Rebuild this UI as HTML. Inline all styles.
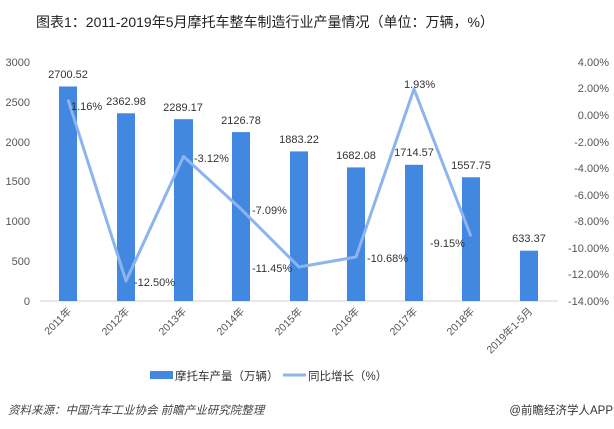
<!DOCTYPE html>
<html><head><meta charset="utf-8"><style>
body{margin:0;background:#fff;}
svg{display:block;font-family:"Liberation Sans","Noto Sans CJK SC",sans-serif;}
</style></head><body>
<svg width="614" height="429" viewBox="0 0 614 429" xmlns="http://www.w3.org/2000/svg">
<text x="36" y="27" font-size="14" fill="#222">图表1：2011-2019年5月摩托车整车制造行业产量情况（单位：万辆，%）</text>
<g font-size="11" fill="#555" text-anchor="end">
<text x="30" y="66">3000</text><text x="30" y="106">2500</text><text x="30" y="146">2000</text>
<text x="30" y="185">1500</text><text x="30" y="225">1000</text><text x="30" y="265">500</text><text x="30" y="305">0</text>
</g>
<g font-size="11" fill="#555" text-anchor="end">
<text x="609" y="66">4.00%</text><text x="609" y="92">2.00%</text><text x="609" y="119">0.00%</text>
<text x="609" y="146">-2.00%</text><text x="609" y="172">-4.00%</text><text x="609" y="199">-6.00%</text>
<text x="609" y="225">-8.00%</text><text x="609" y="252">-10.00%</text><text x="609" y="278">-12.00%</text>
<text x="609" y="305">-14.00%</text>
</g>
<line x1="40" y1="301" x2="558" y2="301" stroke="#d0d0d0" stroke-width="1"/>
<g fill="#4287e0">
<rect x="59" y="86.5" width="18" height="214.5"/>
<rect x="117" y="113.3" width="18" height="187.7"/>
<rect x="174" y="119.2" width="19" height="181.8"/>
<rect x="232" y="132.1" width="18" height="168.9"/>
<rect x="290" y="151.4" width="18" height="149.6"/>
<rect x="347" y="167.4" width="18" height="133.6"/>
<rect x="405" y="164.8" width="18" height="136.2"/>
<rect x="462" y="177.3" width="18" height="123.7"/>
<rect x="520" y="250.7" width="18" height="50.3"/>
</g>
<polyline points="68,99.6 126,281 183.5,156.4 241,209 299,267 356,257 414,89 471,236.5" fill="none" stroke="#8db4ee" stroke-width="3" stroke-linejoin="round"/>
<g font-size="11" fill="#333" text-anchor="middle">
<text x="68" y="78">2700.52</text><text x="126" y="105">2362.98</text><text x="183" y="111">2289.17</text>
<text x="241" y="124">2126.78</text><text x="299" y="143">1883.22</text><text x="356" y="159">1682.08</text>
<text x="414" y="156">1714.57</text><text x="471" y="169">1557.75</text><text x="529" y="242">633.37</text>
</g>
<g font-size="11" fill="#333">
<text x="71" y="110">1.16%</text><text x="134" y="286">-12.50%</text><text x="194" y="162">-3.12%</text>
<text x="252" y="214">-7.09%</text><text x="252" y="272">-11.45%</text><text x="367" y="262">-10.68%</text>
<text x="404" y="88">1.93%</text><text x="430" y="247">-9.15%</text>
</g>
<g font-size="10.5" fill="#555" text-anchor="end">
<text transform="translate(72,312) rotate(-45)">2011年</text>
<text transform="translate(130,312) rotate(-45)">2012年</text>
<text transform="translate(187,312) rotate(-45)">2013年</text>
<text transform="translate(245,312) rotate(-45)">2014年</text>
<text transform="translate(303,312) rotate(-45)">2015年</text>
<text transform="translate(360,312) rotate(-45)">2016年</text>
<text transform="translate(418,312) rotate(-45)">2017年</text>
<text transform="translate(475,312) rotate(-45)">2018年</text>
<text transform="translate(533,312) rotate(-45)">2019年1-5月</text>
</g>
<rect x="150" y="371" width="23" height="8" fill="#4287e0"/>
<text x="175" y="380" font-size="11.5" fill="#333">摩托车产量（万辆）</text>
<line x1="283" y1="375" x2="306" y2="375" stroke="#8db4ee" stroke-width="3"/>
<text x="308" y="380" font-size="11.5" fill="#333">同比增长（%）</text>
<text x="8" y="414" font-size="11.5" fill="#444" font-style="italic">资料来源：中国汽车工业协会 前瞻产业研究院整理</text>
<text x="613" y="414" font-size="11.5" fill="#333" text-anchor="end">@前瞻经济学人APP</text>
</svg>
</body></html>
